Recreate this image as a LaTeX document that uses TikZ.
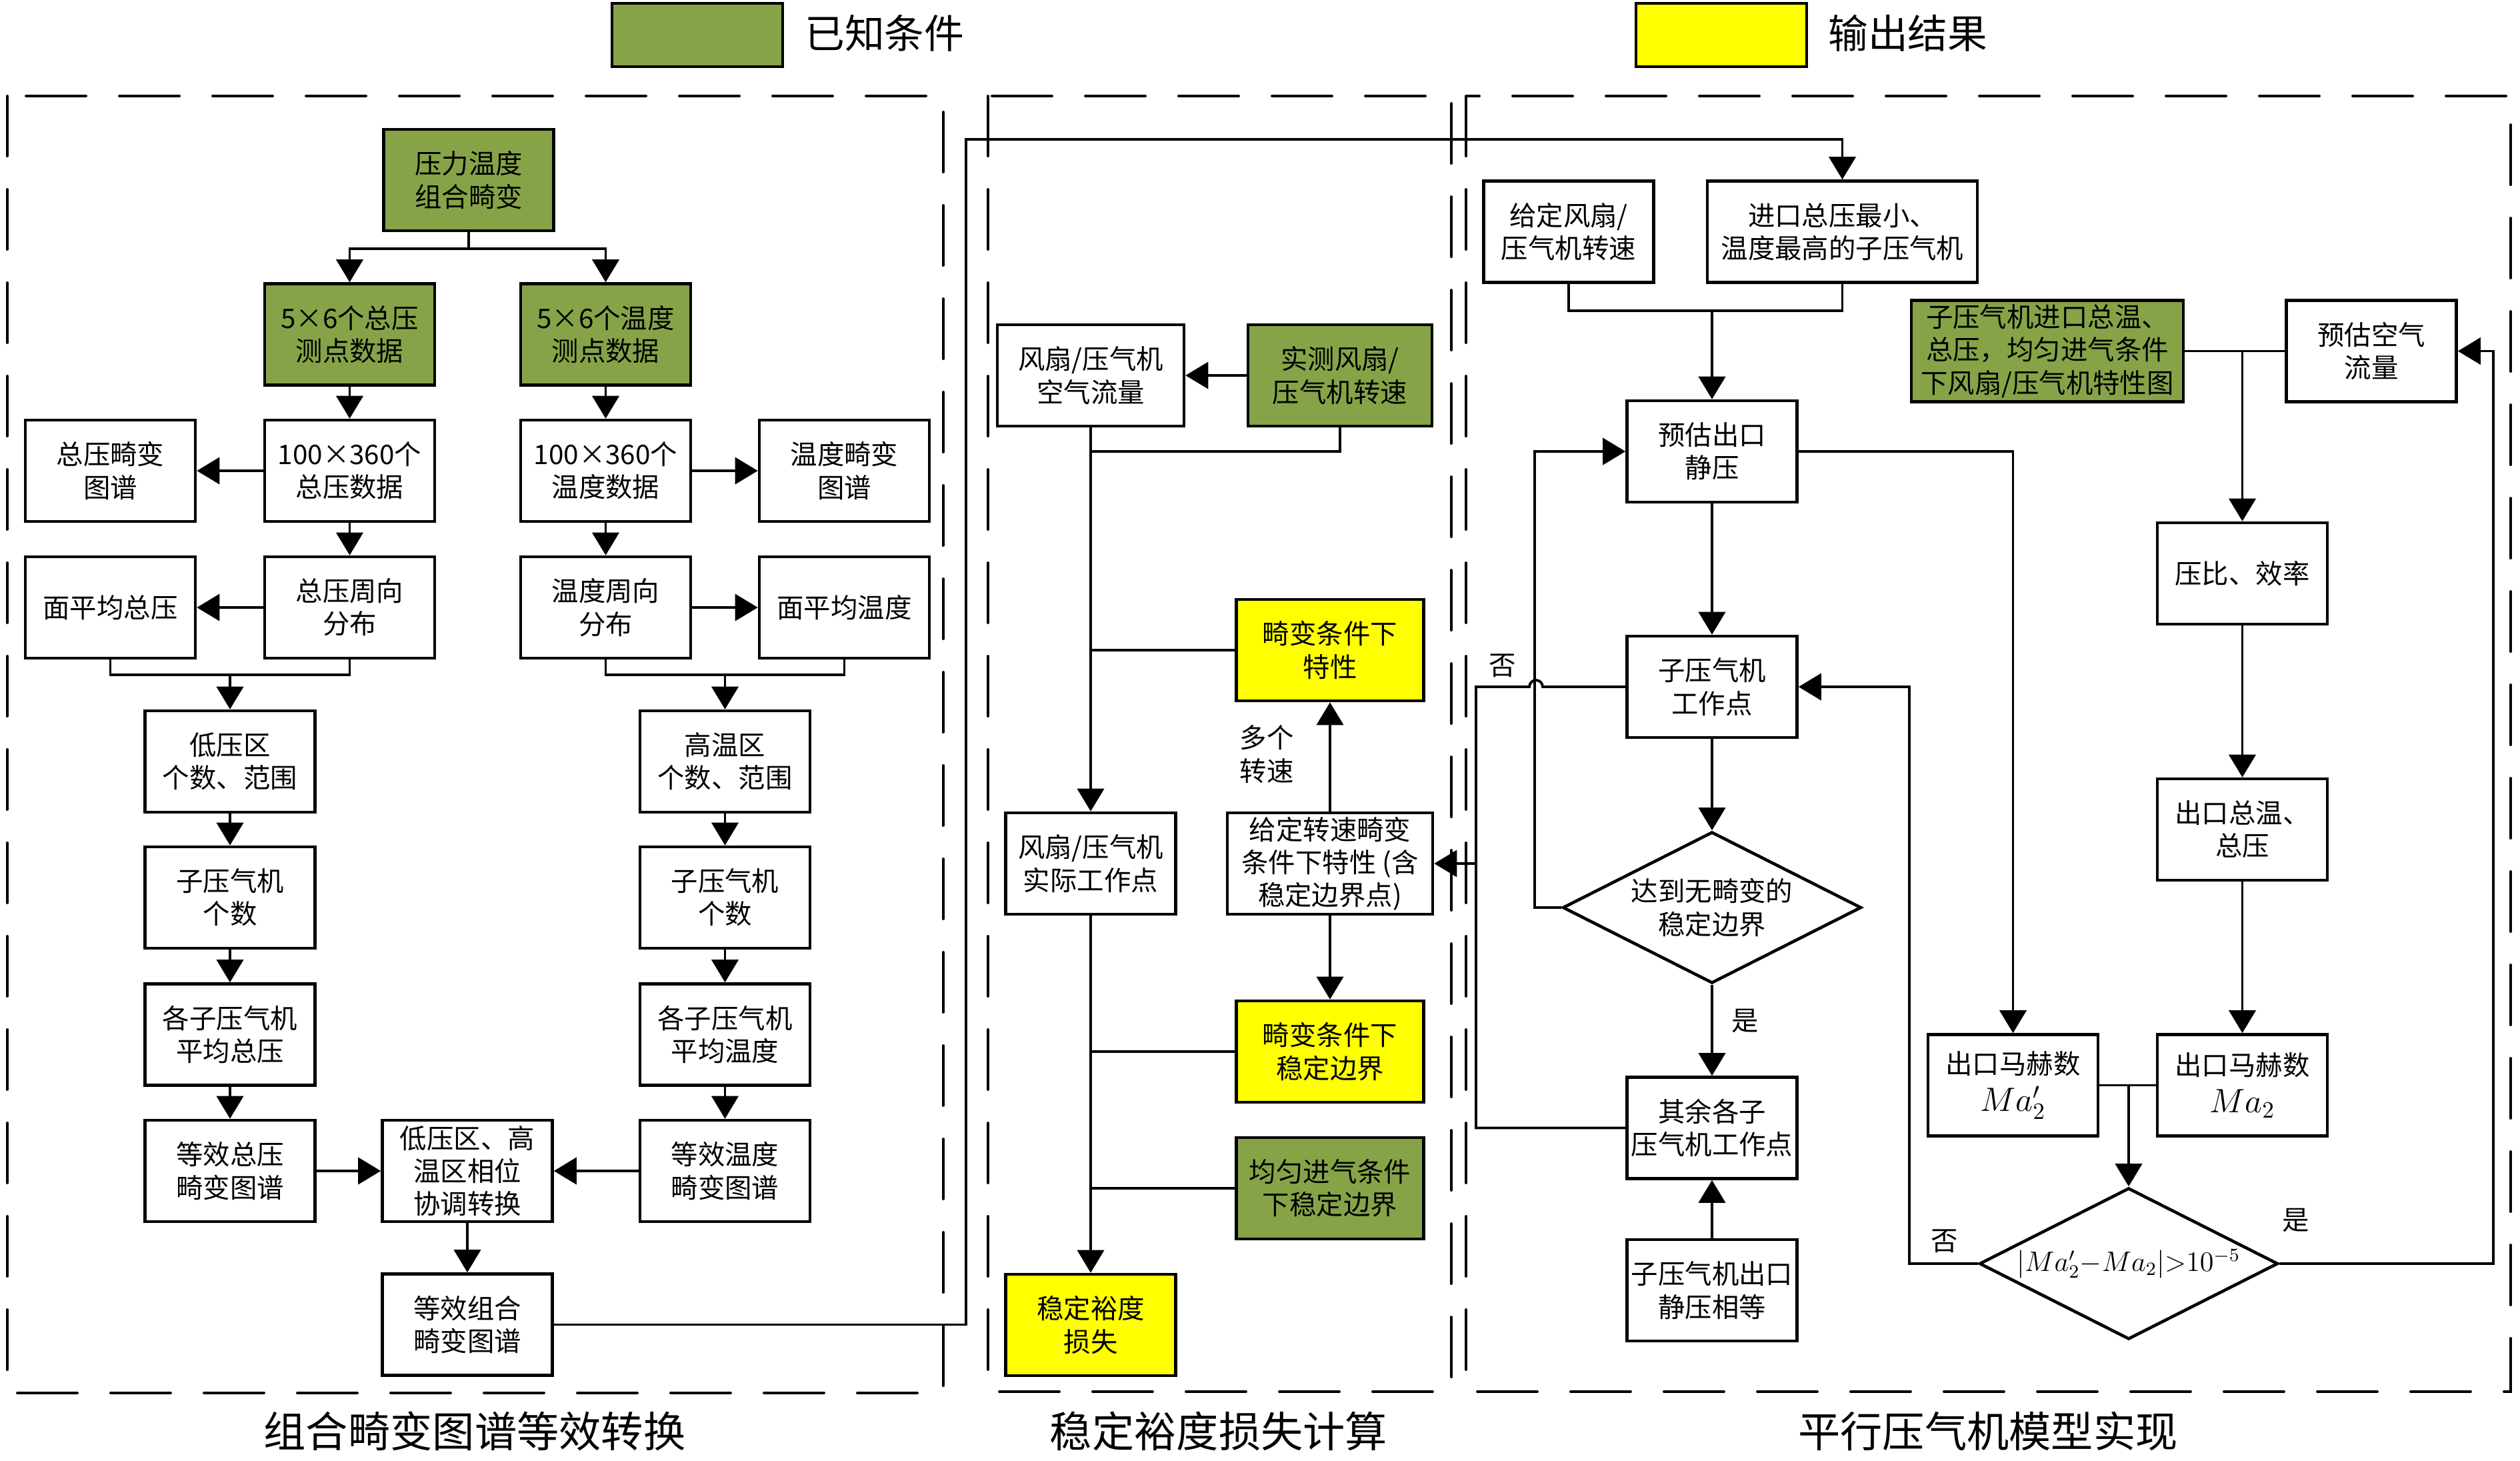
\documentclass[tikz,border=0pt]{standalone}
\usepackage{fontspec}
\usepackage{tikz}
\usetikzlibrary{arrows.meta,positioning,shapes.geometric}
\setmainfont{Liberation Serif}
\newfontfamily\zhfont{Noto Sans CJK SC}
\definecolor{knowngreen}{RGB}{134,164,71}
\definecolor{resultyellow}{RGB}{255,255,0}

\begin{document}
\begin{tikzpicture}[
  every node/.style={font=\zhfont\fontsize{11.5}{14}\selectfont},
  box/.style={draw,line width=1.3pt,minimum width=2.55cm,minimum height=1.52cm,align=center,inner sep=1pt},
  known/.style={box,fill=knowngreen},
  result/.style={box,fill=resultyellow},
  decide/.style={diamond,draw,line width=1.3pt,minimum width=4.48cm,minimum height=2.27cm,aspect=1.97,inner sep=0pt,align=center},
  arr/.style={line width=1.1pt,-{Triangle[length=0.34cm,width=0.4cm]}},
  link/.style={line width=1.1pt},
  panel/.style={line width=1.1pt,dash pattern=on 0.9cm off 0.5cm,line cap=round},
  paneltitle/.style={font=\zhfont\fontsize{18}{20}\selectfont}]
\useasboundingbox (0,0) rectangle (37.8,-21.9);
% legend
\draw[line width=1.3pt,fill=knowngreen] (9.18,-0.05) rectangle (11.74,-1.0);
\node[anchor=west,font=\zhfont\fontsize{17}{19}\selectfont] (lk) at (11.95,-0.5) {已知条件};
\draw[line width=1.3pt,fill=resultyellow] (24.54,-0.05) rectangle (27.10,-1.0);
\node[anchor=west,font=\zhfont\fontsize{17}{19}\selectfont] (lr) at (27.30,-0.5) {输出结果};
% panels
\draw[panel] (0.11,-1.44) rectangle (14.15,-20.89);
\draw[panel] (14.82,-1.44) rectangle (21.77,-20.87);
\draw[panel] (21.99,-1.44) rectangle (37.66,-20.87);
\node[paneltitle] (t1) at (7.12,-21.46) {组合畸变图谱等效转换};
\node[paneltitle] (t2) at (18.28,-21.46) {稳定裕度损失计算};
\node[paneltitle] (t3) at (29.82,-21.46) {平行压气机模型实现};

% combined distortion map
\node[known] (pt) at (7.03,-2.70) {压力温度\\组合畸变};
\node[known] (p56) at (5.245,-5.015) {5×6个总压\\测点数据};
\node[known] (t56) at (9.085,-5.015) {5×6个温度\\测点数据};
\node[box] (p100) at (5.245,-7.06) {100×360个\\总压数据};
\node[box] (t100) at (9.085,-7.06) {100×360个\\温度数据};
\node[box] (pmap) at (1.655,-7.06) {总压畸变\\图谱};
\node[box] (tmap) at (12.665,-7.06) {温度畸变\\图谱};
\node[box] (pcir) at (5.245,-9.11) {总压周向\\分布};
\node[box] (tcir) at (9.085,-9.11) {温度周向\\分布};
\node[box] (pavg) at (1.655,-9.11) {面平均总压};
\node[box] (tavg) at (12.665,-9.11) {面平均温度};
\node[box] (plow) at (3.45,-11.42) {低压区\\个数、范围};
\node[box] (thigh) at (10.875,-11.42) {高温区\\个数、范围};
\node[box] (pnum) at (3.45,-13.46) {子压气机\\个数};
\node[box] (tnum) at (10.875,-13.46) {子压气机\\个数};
\node[box] (pmean) at (3.45,-15.515) {各子压气机\\平均总压};
\node[box] (tmean) at (10.875,-15.515) {各子压气机\\平均温度};
\node[box] (peq) at (3.45,-17.56) {等效总压\\畸变图谱};
\node[box] (teq) at (10.875,-17.56) {等效温度\\畸变图谱};
\node[box] (phase) at (7.01,-17.56) {低压区、高\\温区相位\\协调转换};
\node[box] (ceq) at (7.01,-19.865) {等效组合\\畸变图谱};
\coordinate (mp) at (3.45,-10.12);
\coordinate (mt) at (10.875,-10.12);
\draw[arr] (pt.south) -- ++(0,-0.25) -| (p56.north);
\draw[arr] (pt.south) -- ++(0,-0.25) -| (t56.north);
\draw[arr] (p56) -- (p100);
\draw[arr] (t56) -- (t100);
\draw[arr] (p100) -- (pmap);
\draw[arr] (t100) -- (tmap);
\draw[arr] (p100) -- (pcir);
\draw[arr] (t100) -- (tcir);
\draw[arr] (pcir) -- (pavg);
\draw[arr] (tcir) -- (tavg);
\draw[link] (pavg.south) |- (mp) -| (pcir.south);
\draw[link] (tcir.south) |- (mt) -| (tavg.south);
\draw[arr] (mp) -- (plow);
\draw[arr] (mt) -- (thigh);
\draw[arr] (plow) -- (pnum);
\draw[arr] (pnum) -- (pmean);
\draw[arr] (pmean) -- (peq);
\draw[arr] (thigh) -- (tnum);
\draw[arr] (tnum) -- (tmean);
\draw[arr] (tmean) -- (teq);
\draw[arr] (peq) -- (phase);
\draw[arr] (teq) -- (phase);
\draw[arr] (phase) -- (ceq);

% stability margin loss
\node[box,minimum width=2.80cm] (flow) at (16.36,-5.63) {风扇/压气机\\空气流量};
\node[known,minimum width=2.76cm] (speed) at (20.10,-5.63) {实测风扇/\\压气机转速};
\node[result,minimum width=2.81cm] (dchar) at (19.95,-9.75) {畸变条件下\\特性};
\node[box] (work) at (16.36,-12.95) {风扇/压气机\\实际工作点};
\node[box,minimum width=3.08cm] (given) at (19.95,-12.95) {给定转速畸变\\条件下特性 (含\\稳定边界点)};
\node[result,minimum width=2.81cm] (dbound) at (19.95,-15.77) {畸变条件下\\稳定边界};
\node[known,minimum width=2.81cm] (ubound) at (19.95,-17.82) {均匀进气条件\\下稳定边界};
\node[result] (loss) at (16.36,-19.87) {稳定裕度\\损失};
\node[align=center] (multi) at (19.00,-11.31) {多个\\转速};
\coordinate (j1) at (16.36,-6.77);
\draw[arr] (speed) -- (flow);
\draw[link] (speed.south) |- (j1);
\draw[arr] (flow) -- (work);
\draw[link] (dchar.west) -- (dchar.west -| flow.south);
\draw[arr] (given) -- (dchar);
\draw[arr] (given) -- (dbound);
\draw[arr] (work) -- (loss);
\draw[link] (dbound.west) -- (dbound.west -| work.south);
\draw[link] (ubound.west) -- (ubound.west -| work.south);

% parallel compressor model
\node[box] (gspd) at (23.53,-3.475) {给定风扇/\\压气机转速};
\node[box,minimum width=4.05cm] (inlet) at (27.635,-3.475) {进口总压最小、\\温度最高的子压气机};
\node[box] (estp) at (25.68,-6.77) {预估出口\\静压};
\node[box] (subw) at (25.68,-10.30) {子压气机\\工作点};
\node[decide] (dia1) at (25.68,-13.61) {达到无畸变的\\稳定边界};
\node[box] (rest) at (25.68,-16.915) {其余各子\\压气机工作点};
\node[box] (equal) at (25.68,-19.35) {子压气机出口\\静压相等};
\node[known,minimum width=4.08cm] (gmap) at (30.71,-5.265) {子压气机进口总温、\\总压，均匀进气条件\\下风扇/压气机特性图};
\node[box] (eflow) at (35.57,-5.265) {预估空气\\流量};
\node[box] (pr) at (33.635,-8.60) {压比、效率};
\node[box] (outt) at (33.635,-12.44) {出口总温、\\总压};
\node[box] (mach1) at (30.195,-16.275) {出口马赫数\\[2pt]{\fontsize{14}{16}\selectfont$Ma_2'$}};
\node[box] (mach2) at (33.635,-16.275) {出口马赫数\\[2pt]{\fontsize{14}{16}\selectfont$Ma_2$}};
\node[decide,label={[font=\fontsize{11.5}{14}\selectfont]center:$\bigl|Ma_2'{-}Ma_2\bigr|{>}10^{-5}$}] (dia2) at (31.93,-18.95) {};
\node (no1) at (22.54,-9.98) {否};
\node (yes1) at (26.18,-15.31) {是};
\node (no2) at (29.17,-18.61) {否};
\node (yes2) at (34.44,-18.30) {是};
\coordinate (m3) at (25.68,-4.66);
\coordinate (rback) at (22.14,-12.95);
\draw[arr] (ceq.east) -| (14.49,-2.09) -| (inlet.north);
\draw[link] (gspd.south) |- (m3) -| (inlet.south);
\draw[arr] (m3) -- (estp);
\draw[arr] (estp) -- (subw);
\draw[arr] (subw) -- (dia1);
\draw[arr] (dia1) -- (rest);
\draw[arr] (equal) -- (rest);
\draw[arr] (dia1.west) -- ++(-0.40,0) |- (estp.west);
\draw[link] (rest.west) -| (22.14,-10.30) -- (22.94,-10.30) arc[start angle=180,end angle=0,radius=0.1] -- (subw.west);
\draw[arr] (rback) -- (given.east);
\draw[arr] (estp.east) -| (mach1.north);
\draw[link] (gmap.east) -- (eflow.west);
\draw[arr] (pr.north |- gmap.east) -- (pr.north);
\draw[arr] (pr) -- (outt);
\draw[arr] (outt) -- (mach2);
\draw[link] (mach1.east) -- (mach2.west);
\draw[arr] (dia2.north |- mach1.east) -- (dia2.north);
\draw[arr] (dia2.west) -- ++(-1.03,0) |- (subw.east);
\draw[arr] (dia2.east) -- ++(3.21,0) |- (eflow.east);
\end{tikzpicture}
\end{document}
